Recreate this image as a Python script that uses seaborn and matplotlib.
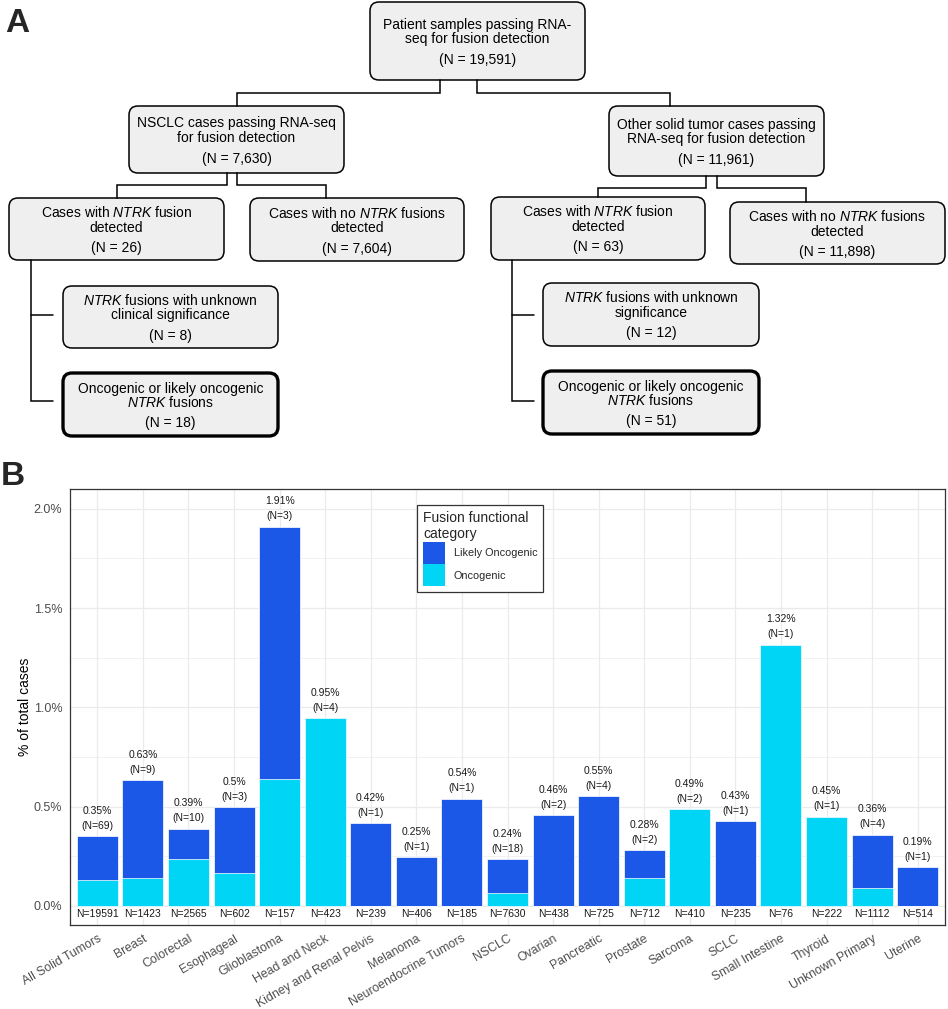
import matplotlib
matplotlib.use("Agg")
import matplotlib.pyplot as plt
from matplotlib.patches import FancyBboxPatch, Patch
from matplotlib.ticker import MultipleLocator, FuncFormatter
import pandas as pd
import seaborn as sns

# panel B data
tumor_types = ["All Solid Tumors", "Breast", "Colorectal", "Esophageal", "Glioblastoma",
               "Head and Neck", "Kidney and Renal Pelvis", "Melanoma", "Neuroendocrine Tumors",
               "NSCLC", "Ovarian", "Pancreatic", "Prostate", "Sarcoma", "SCLC",
               "Small Intestine", "Thyroid", "Unknown Primary", "Uterine"]
cases_tested = [19591, 1423, 2565, 602, 157, 423, 239, 406, 185, 7630,
                438, 725, 712, 410, 235, 76, 222, 1112, 514]
fusions_total = [69, 9, 10, 3, 3, 4, 1, 1, 1, 18, 2, 4, 2, 2, 1, 1, 1, 4, 1]
fusions_oncogenic = [26, 2, 6, 1, 1, 4, 0, 0, 0, 5, 0, 0, 1, 2, 0, 1, 1, 1, 0]

# panel A flowchart text
box_line1 = ["Patient samples passing RNA-", "NSCLC cases passing RNA-seq",
             "Other solid tumor cases passing", "Cases with $\\mathit{NTRK}$ fusion",
             "Cases with no $\\mathit{NTRK}$ fusions", "Cases with $\\mathit{NTRK}$ fusion",
             "Cases with no $\\mathit{NTRK}$ fusions", "$\\mathit{NTRK}$ fusions with unknown",
             "Oncogenic or likely oncogenic", "$\\mathit{NTRK}$ fusions with unknown",
             "Oncogenic or likely oncogenic"]
box_line2 = ["seq for fusion detection", "for fusion detection", "RNA-seq for fusion detection",
             "detected", "detected", "detected", "detected", "clinical significance",
             "$\\mathit{NTRK}$ fusions", "significance", "$\\mathit{NTRK}$ fusions"]
box_counts = ["19,591", "7,630", "11,961", "26", "7,604", "63", "11,898", "8", "18", "12", "51"]

# layout of the flowchart in pixels (x0, y0, x1, y1)
box_xy = [(370, 2, 585, 80), (129, 106, 344, 173), (609, 106, 824, 176),
          (9, 198, 224, 260), (250, 198, 464, 261), (491, 197, 705, 260),
          (730, 202, 945, 264), (63, 286, 278, 348), (63, 373, 278, 436),
          (543, 283, 759, 346), (543, 371, 759, 434)]
box_thick = [False] * 8 + [True, False, True]
connectors = [[(440, 80), (440, 93), (237, 93), (237, 106)],
              [(477, 80), (477, 93), (670, 93), (670, 106)],
              [(227, 173), (227, 185), (117, 185), (117, 198)],
              [(237, 173), (237, 185), (326, 185), (326, 198)],
              [(706, 176), (706, 188), (598, 188), (598, 197)],
              [(717, 176), (717, 188), (806, 188), (806, 202)],
              [(31, 260), (31, 401), (53, 401)], [(31, 315), (53, 315)],
              [(512, 260), (512, 401), (534, 401)], [(512, 315), (534, 315)]]

blue = "#1c58e8"
cyan = "#00d5f5"

sns.set_theme(style="whitegrid")
plt.rcParams["font.family"] = ["Liberation Sans", "DejaVu Sans"]
plt.rcParams["mathtext.fontset"] = "custom"
plt.rcParams["mathtext.rm"] = "Liberation Sans"
plt.rcParams["mathtext.it"] = "Liberation Sans:italic"

fig = plt.figure(figsize=(9.48, 10.09), dpi=100)

# ---- panel A: flowchart ----
axA = fig.add_axes([0, 1 - 490 / 1009, 1, 490 / 1009])
axA.set_xlim(0, 948)
axA.set_ylim(490, 0)
axA.axis("off")

for pts in connectors:
    xs, ys = zip(*pts)
    axA.plot(xs, ys, color="black", lw=1.1, solid_joinstyle="miter")

for (x0, y0, x1, y1), l1, l2, n, thick in zip(box_xy, box_line1, box_line2, box_counts, box_thick):
    axA.add_patch(FancyBboxPatch((x0, y0), x1 - x0, y1 - y0,
                                 boxstyle="round,pad=0,rounding_size=9",
                                 fc="#efefef", ec="black", lw=2.4 if thick else 1.1))
    cx, cy = (x0 + x1) / 2, (y0 + y1) / 2
    for off, s in zip([-12, 2.5, 23], [l1, l2, f"(N = {n})"]):
        axA.text(cx, cy + off, s, ha="center", va="baseline", fontsize=10, color="black")

fig.text(5 / 948, 1 - 32 / 1009, "A", fontsize=24, fontweight="bold", va="baseline")
fig.text(1 / 948, 1 - 485 / 1009, "B", fontsize=24, fontweight="bold", va="baseline")

# ---- panel B: stacked bars ----
df = pd.DataFrame({"tumor": tumor_types, "n": cases_tested,
                   "fusions": fusions_total, "onc": fusions_oncogenic})
df["total_pct"] = df["fusions"] / df["n"] * 100
df["onc_pct"] = df["onc"] / df["n"] * 100

axB = fig.add_axes([70 / 948, 1 - 925 / 1009, 875 / 948, 436 / 1009])
sns.barplot(data=df, x="tumor", y="total_pct", color=blue, saturation=1, width=0.9,
            edgecolor="white", linewidth=0.5, ax=axB)
sns.barplot(data=df, x="tumor", y="onc_pct", color=cyan, saturation=1, width=0.9,
            edgecolor="white", linewidth=0.5, ax=axB)

for i, row in df.iterrows():
    top = row["total_pct"]
    axB.text(i, top + 0.052, f"(N={row['fusions']})", ha="center", va="center",
             fontsize=7.5, color="#1a1a1a")
    axB.text(i, top + 0.127, f"{round(top, 2)}%", ha="center", va="center",
             fontsize=7.5, color="#1a1a1a")
    axB.text(i, -0.04, f"N={row['n']}", ha="center", va="center",
             fontsize=7.5, color="#1a1a1a")

axB.set_xlim(-0.6, 18.6)
axB.set_ylim(-0.096, 2.10)
axB.yaxis.set_major_locator(MultipleLocator(0.5))
axB.yaxis.set_minor_locator(MultipleLocator(0.25))
axB.yaxis.set_major_formatter(FuncFormatter(lambda v, p: f"{v:.1f}%"))
axB.set_axisbelow(True)
axB.grid(which="major", color="#ebebeb", lw=0.9)
axB.grid(which="minor", axis="y", color="#ebebeb", lw=0.45)
axB.xaxis.grid(True, which="major", color="#ebebeb", lw=0.9)
for sp in axB.spines.values():
    sp.set_visible(True)
    sp.set_color("#333333")
    sp.set_linewidth(0.9)
axB.tick_params(axis="both", which="major", length=3.5, width=0.8, color="#333333",
                labelcolor="#4d4d4d", labelsize=9, direction="out", pad=2)
axB.tick_params(axis="x", labelsize=8.8)
axB.tick_params(axis="y", which="minor", length=0)
axB.set_xticks(range(len(tumor_types)))
axB.set_xticklabels(tumor_types, rotation=30, ha="right", rotation_mode="anchor")
axB.set_xlabel("")
axB.set_ylabel("% of total cases", fontsize=10, color="black", labelpad=1.5)

handles = [Patch(fc=blue, ec="none", label="Likely Oncogenic"),
           Patch(fc=cyan, ec="none", label="Oncogenic")]
leg = axB.legend(handles=handles, title="Fusion functional\ncategory", loc="upper left",
                 bbox_to_anchor=(0.397, 0.963), borderaxespad=0, frameon=True,
                 fancybox=False, edgecolor="#333333", framealpha=1, fontsize=7.8,
                 title_fontsize=10, handlelength=2.0, handleheight=2.75, labelspacing=0.05,
                 borderpad=0.55, handletextpad=0.8)
leg.get_frame().set_linewidth(0.9)
leg._legend_box.align = "left"

fig.savefig("out.png", dpi=100)
